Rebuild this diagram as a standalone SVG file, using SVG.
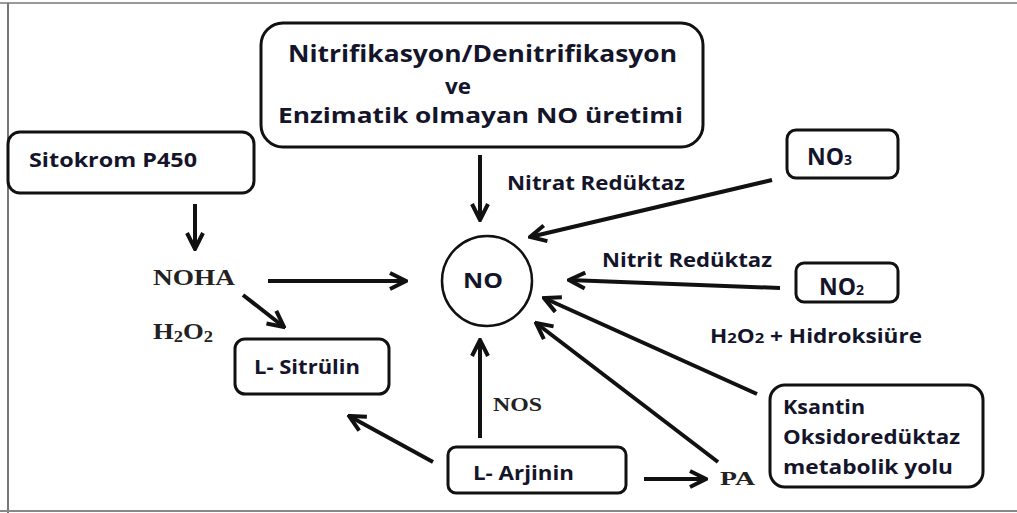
<svg xmlns="http://www.w3.org/2000/svg" width="1017" height="513" viewBox="0 0 1017 513">
<defs>
<marker id="ah" viewBox="0 0 10 10" refX="9" refY="5" markerWidth="5" markerHeight="5" orient="auto" markerUnits="strokeWidth">
<path d="M1,1 L9,5 L1,9" fill="none" stroke="#111" stroke-width="2"/>
</marker>
<style>
.box{fill:#fff;stroke:#111;stroke-width:3}
.t{font-family:"Open Sans","Liberation Sans",sans-serif;font-weight:bold;fill:#14142a}
.s{font-family:"Liberation Serif",serif;font-weight:bold;fill:#222}
.c{stroke:#111;stroke-width:4;fill:none;marker-end:url(#ah)}
</style>
</defs>
<rect width="1017" height="513" fill="#fff"/>
<g id="frame" stroke-width="2" fill="none">
<line x1="0" y1="3" x2="1017" y2="3" stroke="#999"/>
<line x1="8" y1="3" x2="8" y2="513" stroke="#777"/>
<line x1="0" y1="511" x2="1017" y2="511" stroke="#888"/>
</g>
<g id="top">
<rect class="box" x="261" y="23" width="442" height="124" rx="22"/>
<text class="t" x="288" y="62" font-size="23" textLength="389" lengthAdjust="spacingAndGlyphs">Nitrifikasyon/Denitrifikasyon</text>
<text class="t" x="445" y="94" font-size="21" textLength="26" lengthAdjust="spacingAndGlyphs">ve</text>
<text class="t" x="278" y="123" font-size="21.5" textLength="405" lengthAdjust="spacingAndGlyphs">Enzimatik olmayan NO üretimi</text>
</g>
<g id="sitokrom">
<rect class="box" x="8" y="132" width="246" height="61" rx="12"/>
<text class="t" x="29" y="167" font-size="19" textLength="168" lengthAdjust="spacingAndGlyphs">Sitokrom P450</text>
</g>
<g id="no">
<circle cx="487" cy="281" r="45" fill="#fff" stroke="#111" stroke-width="2.5"/>
<text class="t" x="463" y="288" font-size="22" textLength="40" lengthAdjust="spacingAndGlyphs">NO</text>
</g>
<g id="noha"><text class="s" x="153" y="285" font-size="23" textLength="82" lengthAdjust="spacingAndGlyphs">NOHA</text></g>
<g id="h2o2"><text class="s" x="153" y="339" font-size="23" textLength="60" lengthAdjust="spacingAndGlyphs">H<tspan font-size="16" dy="3">2</tspan><tspan dy="-3">O</tspan><tspan font-size="16" dy="3">2</tspan></text></g>
<g id="sitrulin">
<rect class="box" x="235" y="339" width="154" height="55" rx="10"/>
<text class="t" x="254" y="374" font-size="19" textLength="106" lengthAdjust="spacingAndGlyphs">L- Sitrülin</text>
</g>
<g id="arjinin">
<rect class="box" x="448" y="447" width="178" height="46" rx="8"/>
<text class="t" x="473" y="480" font-size="19" textLength="101" lengthAdjust="spacingAndGlyphs">L- Arjinin</text>
</g>
<g id="pa"><text class="s" x="720" y="485" font-size="19" textLength="35" lengthAdjust="spacingAndGlyphs">PA</text></g>
<g id="no3">
<rect class="box" x="787" y="130" width="111" height="48" rx="9"/>
<text class="t" x="807" y="165" font-size="23">NO<tspan font-size="14">3</tspan></text>
</g>
<g id="no2">
<rect class="box" x="796" y="263" width="102" height="39" rx="8"/>
<text class="t" x="819" y="295" font-size="23">NO<tspan font-size="14">2</tspan></text>
</g>
<g id="ksantin">
<rect class="box" x="770" y="385" width="213" height="102" rx="15"/>
<text class="t" x="783" y="414" font-size="19" textLength="82" lengthAdjust="spacingAndGlyphs">Ksantin</text>
<text class="t" x="783" y="444" font-size="19" textLength="177" lengthAdjust="spacingAndGlyphs">Oksidoredüktaz</text>
<text class="t" x="783" y="474" font-size="19" textLength="170" lengthAdjust="spacingAndGlyphs">metabolik yolu</text>
</g>
<g id="labels">
<text class="t" x="507" y="190" font-size="19" textLength="178" lengthAdjust="spacingAndGlyphs">Nitrat Redüktaz</text>
<text class="t" x="602" y="267" font-size="19" textLength="170" lengthAdjust="spacingAndGlyphs">Nitrit Redüktaz</text>
<text class="t" x="710" y="343" font-size="19" textLength="212" lengthAdjust="spacingAndGlyphs">H<tspan font-size="14">2</tspan>O<tspan font-size="14">2</tspan> + Hidroksiüre</text>
<text class="s" x="493" y="411" font-size="19" textLength="49" lengthAdjust="spacingAndGlyphs">NOS</text>
</g>
<g id="connectors">
<line class="c" x1="195" y1="204" x2="195" y2="249"/>
<line class="c" x1="480" y1="155" x2="480" y2="220"/>
<line class="c" x1="268" y1="281" x2="406" y2="281"/>
<line class="c" x1="243" y1="295" x2="284" y2="327"/>
<line class="c" x1="433" y1="462" x2="349" y2="416"/>
<line class="c" x1="480" y1="438" x2="480" y2="340"/>
<line class="c" x1="644" y1="479" x2="706" y2="479"/>
<line class="c" x1="718" y1="462" x2="536" y2="323"/>
<line class="c" x1="757" y1="394" x2="544" y2="298"/>
<line class="c" x1="780" y1="288" x2="569" y2="280"/>
<line class="c" x1="772" y1="180" x2="530" y2="237"/>
</g>
</svg>
